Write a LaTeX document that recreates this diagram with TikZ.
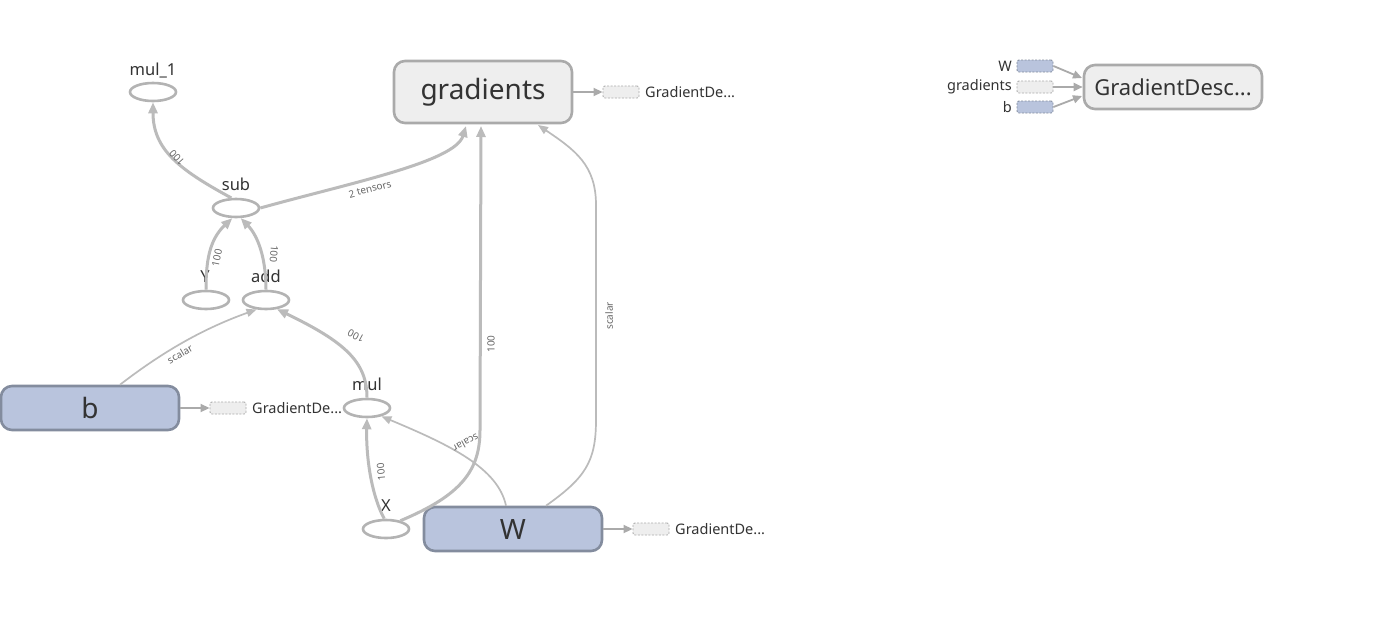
\documentclass[tikz,border=0pt]{standalone}
\usepackage{fontspec}
\setmainfont{Noto Sans}
\usetikzlibrary{arrows.meta,shapes.geometric}
\definecolor{edgec}{HTML}{BBBBBB}
\definecolor{opc}{HTML}{B3B3B3}
\definecolor{txt}{HTML}{333333}
\definecolor{grayfill}{HTML}{EEEEEE}
\definecolor{graydraw}{HTML}{AAAAAA}
\definecolor{bluefill}{HTML}{B9C4DD}
\definecolor{bluedraw}{HTML}{838C9E}
\definecolor{elab}{HTML}{666666}
\tikzset{
  op/.style={ellipse,draw=opc,line width=2.6pt,fill=white,minimum width=46pt,minimum height=18pt,inner sep=0pt},
  oplabel/.style={text=txt,font=\fontsize{16.5}{18}\selectfont,inner sep=0pt,anchor=base},
  graybox/.style={rectangle,rounded corners=11pt,draw=graydraw,line width=2.6pt,fill=grayfill,text=txt,inner sep=0pt},
  bluebox/.style={rectangle,rounded corners=11pt,draw=bluedraw,line width=2.6pt,fill=bluefill,text=txt,inner sep=0pt},
  gdash/.style={rectangle,rounded corners=2pt,draw=graydraw,dashed,dash pattern=on 2pt off 1.5pt,line width=0.9pt,fill=grayfill,minimum width=36pt,minimum height=12pt,inner sep=0pt},
  bdash/.style={rectangle,rounded corners=2pt,draw=bluedraw,dashed,dash pattern=on 2pt off 1.5pt,line width=0.9pt,fill=bluefill,minimum width=36pt,minimum height=12pt,inner sep=0pt},
  thickedge/.style={draw=edgec,line width=3pt,-{Triangle[length=11pt,width=9pt]}},
  thinedge/.style={draw=edgec,line width=1.7pt,-{Triangle[length=10pt,width=8pt]}},
  smalledge/.style={draw=graydraw,line width=1.8pt,-{Triangle[length=9pt,width=8pt]}},
  elabel/.style={text=elab,font=\fontsize{10}{11}\selectfont,inner sep=0pt},
  auxlabel/.style={text=txt,font=\fontsize{14.5}{16}\selectfont,inner sep=0pt},
}
\begin{document}
\begin{tikzpicture}[x=1pt,y=-1pt]
\useasboundingbox (0,0) rectangle (1383,616);
\fill[white] (0,0) rectangle (1383,616);

% op nodes
\node[op] (mul1) at (153,92) {};
\node[oplabel] (mul1l) at (153,75) {mul\_1};
\node[op] (sub) at (236,208) {};
\node[oplabel] (subl) at (236,190) {sub};
\node[op] (Y) at (206,300) {};
\node[oplabel] (Yl) at (205,282) {Y};
\node[op] (add) at (266,300) {};
\node[oplabel] (addl) at (266,282) {add};
\node[op] (mul) at (367,408) {};
\node[oplabel] (mull) at (367,390) {mul};
\node[op] (X) at (386,529) {};
\node[oplabel] (Xl) at (386,511) {X};

% big boxes
\node[graybox,minimum width=178pt,minimum height=62pt,font=\fontsize{28}{30}\selectfont] (grad) at (483,92) {gradients};
\node[bluebox,minimum width=178pt,minimum height=44pt,font=\fontsize{28}{30}\selectfont] (b) at (90,408) {b};
\node[bluebox,minimum width=178pt,minimum height=44pt,font=\fontsize{28}{30}\selectfont] (W) at (513,529) {W};
\node[graybox,minimum width=178pt,minimum height=44pt,font=\fontsize{22}{24}\selectfont] (gd) at (1173,87) {GradientDesc...};

% auxiliary dashed boxes
\node[gdash] (gradout) at (621,92) {};
\node[auxlabel,anchor=west] (gradoutl) at (645,92) {GradientDe...};
\node[gdash] (bout) at (228,408) {};
\node[auxlabel,anchor=west] (boutl) at (252,408) {GradientDe...};
\node[gdash] (Wout) at (651,529) {};
\node[auxlabel,anchor=west] (Woutl) at (675,529) {GradientDe...};

\node[bdash] (Win) at (1035,66) {};
\node[auxlabel,anchor=east] (Winl) at (1012,66) {W};
\node[gdash] (gradin) at (1035,87) {};
\node[auxlabel,anchor=east] (gradinl) at (1012,87) {gradients};
\node[bdash] (bin) at (1035,107) {};
\node[auxlabel,anchor=east] (binl) at (1012,107) {b};

\coordinate (gdA) at (1082,78);
\coordinate (gdB) at (1082,96);
\draw[smalledge] (grad.east) -- (gradout.west);
\draw[smalledge] (b.east) -- (bout.west);
\draw[smalledge] (W.east) -- (Wout.west);
\draw[smalledge] (Win.east) -- (gdA);
\draw[smalledge] (gradin.east) -- (gd.west);
\draw[smalledge] (bin.east) -- (gdB);

% edges
\coordinate (gradA) at (466,126);
\coordinate (gradB) at (481,126);
\coordinate (gradC) at (538,125);
\draw[thickedge] (sub.115) .. controls (180,170) and (153,150) .. (mul1.south);
\node[elabel,rotate=132] (l1) at (177,158) {100};
\draw[thickedge] (sub.east) .. controls (350,183) and (455,162) .. (gradA);
\node[elabel,rotate=15] (l2) at (370,189) {2 tensors};
\draw[thickedge] (Y.north) .. controls (206,262) and (209,240) .. (sub.250);
\node[elabel,rotate=78] (l3) at (217,258) {100};
\draw[thickedge] (add.north) .. controls (266,258) and (258,236) .. (sub.295);
\node[elabel,rotate=-95] (l4) at (274,254) {100};
\draw[thinedge] (b.north) ++(30,0) coordinate (bA) .. controls (165,350) and (205,328) .. (add.225);
\node[elabel,rotate=30] (l5) at (180,354) {scalar};
\draw[thickedge] (mul.north) .. controls (367,362) and (345,342) .. (add.320);
\node[elabel,rotate=152] (l6) at (356,336) {100};
\draw[thickedge] (X.100) .. controls (370,492) and (366,452) .. (mul.south);
\node[elabel,rotate=95] (l7) at (381,472) {100};
\draw[thinedge] (W.north) ++(-7,0) coordinate (WA) .. controls (498,468) and (450,445) .. (mul.330);
\node[elabel,rotate=208] (l8) at (466,443) {scalar};
\draw[thickedge] (X.30) .. controls (462,495) and (480,470) .. (480,430) -- (gradB);
\node[elabel,rotate=90] (l9) at (491,344) {100};
\draw[thinedge] (W.north) ++(33,0) coordinate (WB) .. controls (585,478) and (596,462) .. (596,420) -- (596,205) .. controls (596,165) and (575,150) .. (gradC);
\node[elabel,rotate=90] (l10) at (609,316) {scalar};
\end{tikzpicture}
\end{document}
